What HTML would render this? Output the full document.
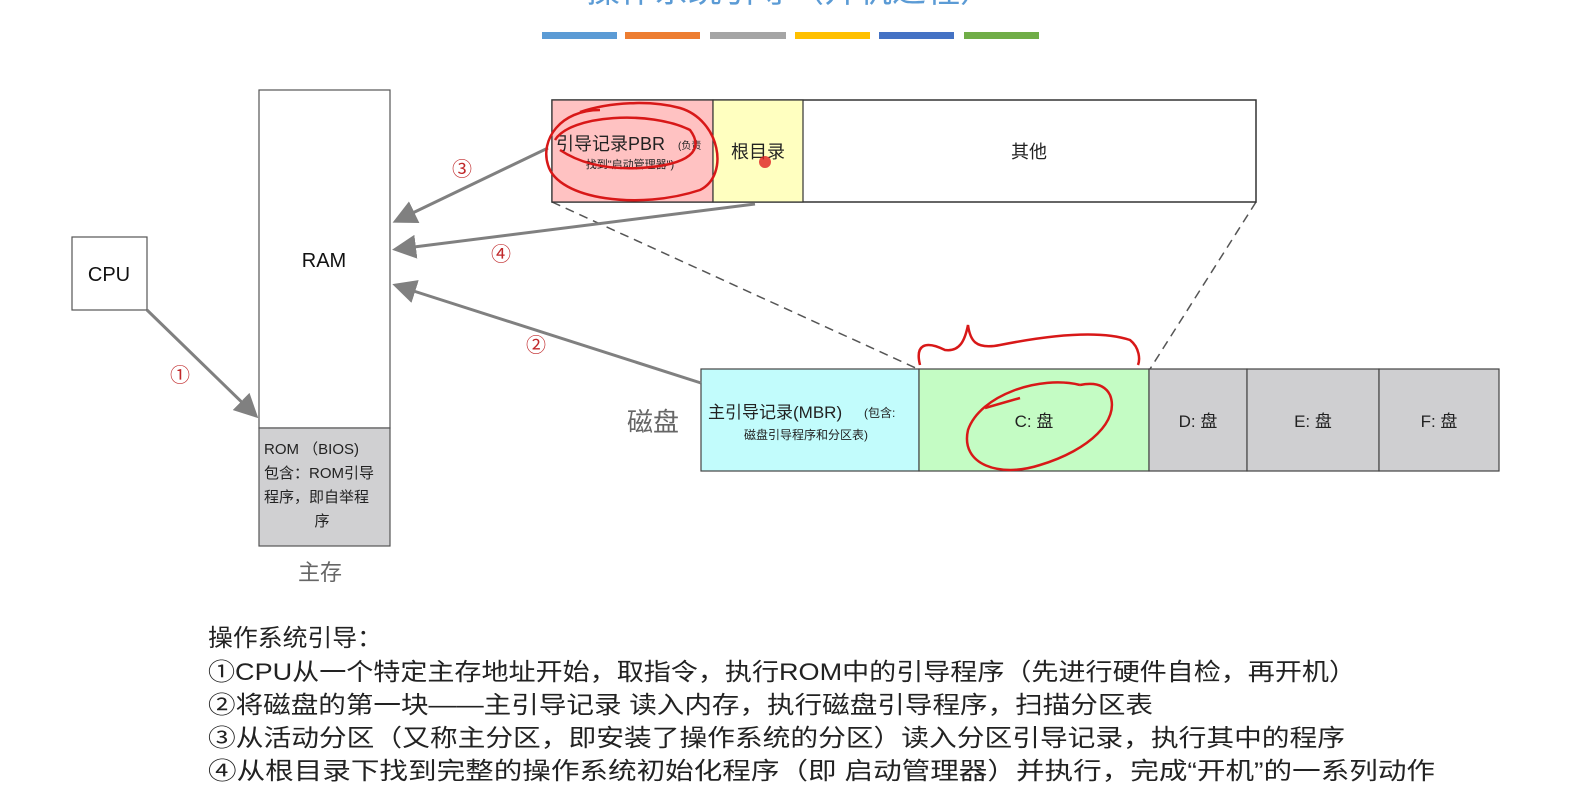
<!DOCTYPE html>
<html><head><meta charset="utf-8"><style>
html,body{margin:0;padding:0;background:#fff;width:1583px;height:809px;overflow:hidden}
svg{display:block}
text{font-family:"Liberation Sans","Noto Sans CJK SC",sans-serif}
</style></head><body>
<svg width="1583" height="809" viewBox="0 0 1583 809">
<defs>
<marker id="ah" markerWidth="8" markerHeight="8" refX="6" refY="4" orient="auto" markerUnits="strokeWidth">
<path d="M0,0 L8,4 L0,8 Z" fill="#808080"/></marker>
</defs>
<text x="790" y="2" font-size="34" fill="#5b9bd5" text-anchor="middle">操作系统引导（开机过程）</text>
<rect x="542" y="32" width="75" height="7" fill="#5b9bd5"/>
<rect x="625" y="32" width="75" height="7" fill="#ed7d31"/>
<rect x="710" y="32" width="76" height="7" fill="#a5a5a5"/>
<rect x="795" y="32" width="75" height="7" fill="#ffc000"/>
<rect x="879" y="32" width="75" height="7" fill="#4472c4"/>
<rect x="964" y="32" width="75" height="7" fill="#70ad47"/>

<rect x="72" y="237" width="75" height="73" fill="#fff" stroke="#555" stroke-width="1.2"/>
<text x="109" y="281" font-size="20" text-anchor="middle" fill="#111">CPU</text>

<rect x="259" y="90" width="131" height="338" fill="#fff" stroke="#555" stroke-width="1.2"/>
<text x="324" y="267" font-size="20" text-anchor="middle" fill="#111">RAM</text>
<rect x="259" y="428" width="131" height="118" fill="#d0d0d2" stroke="#555" stroke-width="1.2"/>
<text x="264" y="454" font-size="15" fill="#222">ROM （BIOS)</text>
<text x="264" y="478" font-size="15" fill="#222">包含：ROM引导</text>
<text x="264" y="502" font-size="15" fill="#222">程序，即自举程</text>
<text x="322" y="526" font-size="15" fill="#222" text-anchor="middle">序</text>
<text x="320" y="580" font-size="22" fill="#666" text-anchor="middle">主存</text>

<line x1="552" y1="202" x2="918" y2="369" stroke="#555" stroke-width="1.5" stroke-dasharray="9,6"/>
<line x1="1256" y1="202" x2="1150" y2="369" stroke="#555" stroke-width="1.5" stroke-dasharray="9,6"/>

<rect x="552" y="100" width="704" height="102" fill="#fff" stroke="#333" stroke-width="1.5"/>
<rect x="552" y="100" width="161" height="102" fill="#ffc2c2" stroke="#333" stroke-width="1.2"/>
<rect x="713" y="100" width="90" height="102" fill="#ffffc0" stroke="#333" stroke-width="1.2"/>
<text x="556" y="150" font-size="18" fill="#222">引导记录PBR</text>
<text x="678" y="149" font-size="10" fill="#222">(负责</text>
<text x="630" y="168" font-size="11" fill="#222" text-anchor="middle">找到"启动管理器")</text>
<text x="758" y="158" font-size="18" fill="#222" text-anchor="middle">根目录</text>
<circle cx="765" cy="162" r="6" fill="#e02020" opacity="0.8"/>
<text x="1029" y="158" font-size="18" fill="#222" text-anchor="middle">其他</text>

<rect x="701" y="369" width="218" height="102" fill="#c2fcfc" stroke="#444" stroke-width="1.2"/>
<rect x="919" y="369" width="230" height="102" fill="#c4fcc4" stroke="#444" stroke-width="1.2"/>
<rect x="1149" y="369" width="98" height="102" fill="#cfcfd1" stroke="#444" stroke-width="1.2"/>
<rect x="1247" y="369" width="132" height="102" fill="#cfcfd1" stroke="#444" stroke-width="1.2"/>
<rect x="1379" y="369" width="120" height="102" fill="#cfcfd1" stroke="#444" stroke-width="1.2"/>
<text x="708" y="418" font-size="17" fill="#222">主引导记录(MBR)</text>
<text x="864" y="417" font-size="12" fill="#222">(包含:</text>
<text x="806" y="439" font-size="12" fill="#222" text-anchor="middle">磁盘引导程序和分区表)</text>
<text x="1034" y="427" font-size="17" fill="#222" text-anchor="middle">C: 盘</text>
<text x="1198" y="427" font-size="17" fill="#222" text-anchor="middle">D: 盘</text>
<text x="1313" y="427" font-size="17" fill="#222" text-anchor="middle">E: 盘</text>
<text x="1439" y="427" font-size="17" fill="#222" text-anchor="middle">F: 盘</text>
<text x="653" y="431" font-size="26" fill="#666" text-anchor="middle">磁盘</text>

<g stroke="#808080" stroke-width="3" fill="none" marker-end="url(#ah)">
<line x1="147" y1="310" x2="254" y2="414"/>
<line x1="548" y1="148" x2="398" y2="220"/>
<line x1="755" y1="204" x2="398" y2="249"/>
<line x1="701" y1="383" x2="398" y2="286"/>
</g>
<g fill="#c0282a" font-size="20" text-anchor="middle">
<text x="180" y="382">①</text>
<text x="462" y="176">③</text>
<text x="501" y="261">④</text>
<text x="536" y="352">②</text>
</g>

<g fill="none" stroke="#d81818" stroke-width="2.5">
<path d="M600,110 C560,110 540,140 548,165 C558,200 640,210 700,190 C730,175 720,120 680,108 C650,100 610,102 580,112"/>
<path d="M555,140 C570,115 650,110 690,130 C705,150 690,165 640,168 C600,170 575,160 560,150"/>
<path d="M920,365 C915,345 925,340 945,350 C960,352 965,340 968,325 C970,340 975,350 1000,345 C1050,335 1100,330 1130,340 C1140,348 1140,360 1138,365"/>
<path d="M1080,385 C1040,375 980,395 968,430 C960,465 1000,478 1040,465 C1090,450 1120,420 1110,395 C1105,385 1095,382 1080,385"/>
<path d="M985,408 L1020,398"/>
</g>

<g font-size="24" fill="#222">
<text x="208" y="646" textLength="174" lengthAdjust="spacingAndGlyphs">操作系统引导：</text>
<text x="208" y="680" textLength="1148" lengthAdjust="spacingAndGlyphs">①CPU从一个特定主存地址开始，取指令，执行ROM中的引导程序（先进行硬件自检，再开机）</text>
<text x="208" y="713" textLength="945" lengthAdjust="spacingAndGlyphs">②将磁盘的第一块——主引导记录 读入内存，执行磁盘引导程序，扫描分区表</text>
<text x="208" y="746" textLength="1137" lengthAdjust="spacingAndGlyphs">③从活动分区（又称主分区，即安装了操作系统的分区）读入分区引导记录，执行其中的程序</text>
<text x="208" y="779" textLength="1227" lengthAdjust="spacingAndGlyphs">④从根目录下找到完整的操作系统初始化程序（即 启动管理器）并执行，完成“开机”的一系列动作</text>
</g>
</svg>
</body></html>
